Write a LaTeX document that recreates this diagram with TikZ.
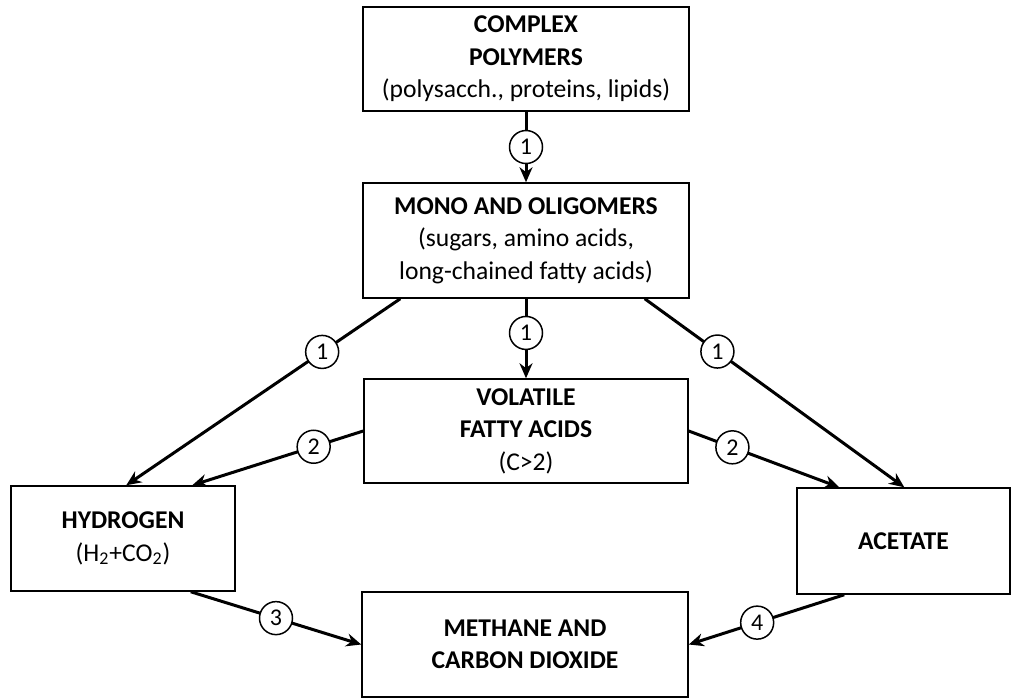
\documentclass[tikz,border=0pt]{standalone}
\usepackage{fontspec}
\setmainfont{Carlito}
\usetikzlibrary{arrows.meta}
\begin{document}
\begin{tikzpicture}[x=0.5pt,y=-0.5pt,
  box/.style={rectangle,draw,line width=0.75pt,align=center,inner sep=2pt,font=\fontsize{12.8}{16.2}\selectfont},
  stepnum/.style={circle,draw,fill=white,line width=0.75pt,inner sep=0pt,minimum size=16.5pt,font=\fontsize{12}{12}\selectfont},
  flow/.style={-{Stealth[length=7.5pt,width=6.5pt]},line width=1.5pt}]
  \useasboundingbox (0,0) rectangle (1011,698);
  % draw complex polymers
  \node at(526,59)[box,minimum width=163pt,minimum height=52pt](cplx){\textbf{COMPLEX}\\\textbf{POLYMERS}\\(polysacch., proteins, lipids)};
  % draw monomers and oligomers
  \node at(526,240.5)[box,minimum width=163pt,minimum height=57.5pt](mono){\textbf{MONO AND OLIGOMERS}\\(sugars, amino acids,\\long-chained fatty acids)};
  % draw volatile fatty acids
  \node at(526,431)[box,minimum width=162pt,minimum height=52pt](vfa){\textbf{VOLATILE}\\\textbf{FATTY ACIDS}\\(C>2)};
  % draw hydrogen
  \node at(123,538.5)[box,minimum width=112pt,minimum height=52.5pt](hyd){\textbf{HYDROGEN}\\(H\textsubscript{2}+CO\textsubscript{2})};
  % draw acetate
  \node at(903.5,541)[box,minimum width=106.5pt,minimum height=53pt](acet){\textbf{ACETATE}};
  % draw methane and carbon dioxide
  \node at(525,644.5)[box,minimum width=163pt,minimum height=52.5pt](meth){\textbf{METHANE AND}\\\textbf{CARBON DIOXIDE}};
  % draw arrows with step numbers
  \draw [flow](cplx) -- node[stepnum]{1} (mono);
  \draw [flow](mono) -- node[stepnum,pos=0.43]{1} (vfa);
  \draw [flow]([xshift=19pt]mono.south west) -- node[stepnum,pos=0.285]{1} ([xshift=58pt]hyd.north west);
  \draw [flow](vfa.west) -- node[stepnum,pos=0.29]{2} ([xshift=91pt]hyd.north west);
  \draw [flow]([xshift=-22.5pt]mono.south east) -- node[stepnum,pos=0.28]{1} ([xshift=54pt]acet.north west);
  \draw [flow](vfa.east) -- node[stepnum,pos=0.29]{2} ([xshift=21.5pt]acet.north west);
  \draw [flow]([xshift=-22.5pt]hyd.south east) -- node[stepnum,pos=0.5]{3} (meth.west);
  \draw [flow]([xshift=24pt]acet.south west) -- node[stepnum,pos=0.56]{4} (meth.east);
\end{tikzpicture}
\end{document}
